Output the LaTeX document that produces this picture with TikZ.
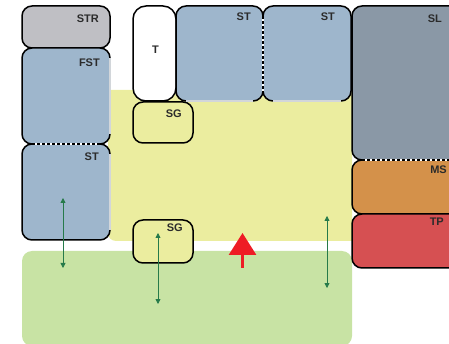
\documentclass[tikz,border=0pt]{standalone}
\usepackage{fontspec}
\setmainfont{Liberation Sans}
\usetikzlibrary{arrows.meta}
\definecolor{strc}{HTML}{BFBFC4}
\definecolor{bluec}{HTML}{9EB6CC}
\definecolor{slc}{HTML}{8A98A6}
\definecolor{msc}{HTML}{D4914A}
\definecolor{tpc}{HTML}{D65052}
\definecolor{yelc}{HTML}{EBED9F}
\definecolor{grnc}{HTML}{C8E3A4}
\definecolor{arrc}{HTML}{267A4A}
\definecolor{redc}{HTML}{EE1C25}
\definecolor{labelc}{HTML}{2B2B2B}
\definecolor{edgec}{HTML}{D2D6DA}
\begin{document}
\begin{tikzpicture}[x=1pt,y=-1pt,
  box/.style={draw=black, line width=1.5pt, rounded corners=10pt, inner sep=0pt, outer sep=0pt, anchor=north west},
  lbl/.style={font=\bfseries\fontsize{11}{13}\selectfont, text=labelc, inner sep=0pt, anchor=north east},
  dimarrow/.style={draw=arrc, line width=0.8pt, {Triangle[width=5pt,length=5pt]}-{Triangle[width=5pt,length=5pt]}},
  lightedge/.style={draw=edgec, line width=1.5pt},
  sepwhite/.style={draw=white, line width=1.5pt},
  sepdash/.style={draw=black, line width=1.5pt, dash pattern=on 3pt off 2pt}]
\useasboundingbox (0,0) rectangle (449,344);
\clip (0,0) rectangle (449,344);
% regions
\node[fill=grnc, rounded corners=10pt, inner sep=0pt, outer sep=0pt, anchor=north west, minimum width=330pt, minimum height=95pt] (green) at (22,251) {};
\fill[yelc] (108,90) -- (352,90) -- (352,241) [rounded corners=8pt]-- (108,241) [sharp corners]-- cycle;
\coordinate (yellow) at (230,165);
% left column
\node[box, fill=strc, minimum width=88pt, minimum height=42pt] (str) at (22,6) {};
\node[box, fill=bluec, minimum width=88pt, minimum height=96pt] (fst) at (22,48) {};
\node[box, fill=bluec, minimum width=88pt, minimum height=96pt] (stl) at (22,144) {};
% middle top
\node[box, fill=white, rounded corners=13pt, minimum width=43pt, minimum height=95pt] (t) at (133,6) {};
\node[box, fill=bluec, minimum width=87pt, minimum height=95pt] (stm) at (176,6) {};
\node[box, fill=bluec, minimum width=88pt, minimum height=95pt] (str2) at (263,6) {};
% right column
\node[box, fill=slc, minimum width=120pt, minimum height=154pt] (sl) at (352,6) {};
\node[box, fill=msc, minimum width=120pt, minimum height=54pt] (ms) at (352,160) {};
\node[box, fill=tpc, minimum width=120pt, minimum height=54pt] (tp) at (352,214) {};
% SG boxes
\node[box, fill=yelc, minimum width=60pt, minimum height=41pt] (sga) at (133,102) {};
\node[box, fill=yelc, minimum width=60pt, minimum height=43pt] (sgb) at (133,220) {};
% light straight edges
\draw[lightedge] (110,58) -- (110,134);
\draw[lightedge] (110,154) -- (110,230);
\draw[lightedge] (186,101) -- (253,101);
\draw[lightedge] (273,101) -- (341,101);
% dashed separators
\draw[sepwhite] (32,144) -- (100,144);
\draw[sepdash] (32,144) -- (100,144);
\draw[sepwhite] (263,16) -- (263,91);
\draw[sepdash] (263,16) -- (263,91);
\draw[sepwhite] (362,160) -- (460,160);
\draw[sepdash] (362,160) -- (460,160);
% labels
\node[lbl] (lstr) at (99,15) {STR};
\node[lbl] (lfst) at (100,59) {FST};
\node[lbl] (lstl) at (99,153) {ST};
\node[lbl, anchor=center] (lt) at (155.5,50) {T};
\node[lbl] (lstm) at (251,13) {ST};
\node[lbl] (lstr2) at (335,13) {ST};
\node[lbl] (lsl) at (442,15) {SL};
\node[lbl] (lms) at (447,166) {MS};
\node[lbl] (ltp) at (444,218) {TP};
\node[lbl] (lsga) at (182,110) {SG};
\node[lbl] (lsgb) at (183,224) {SG};
% green double arrows
\coordinate (a1) at (63,198); \coordinate (a2) at (63,268);
\coordinate (b1) at (158,233); \coordinate (b2) at (158,304);
\coordinate (c1) at (327,216); \coordinate (c2) at (327,288);
\draw[dimarrow] (a1) -- (a2);
\draw[dimarrow] (b1) -- (b2);
\draw[dimarrow] (c1) -- (c2);
% red arrow
\coordinate (r1) at (242.5,268); \coordinate (r2) at (242.5,233);
\draw[draw=redc, line width=3pt, -{Triangle[width=27pt,length=22pt,fill=redc]}] (r1) -- (r2);
\end{tikzpicture}
\end{document}
